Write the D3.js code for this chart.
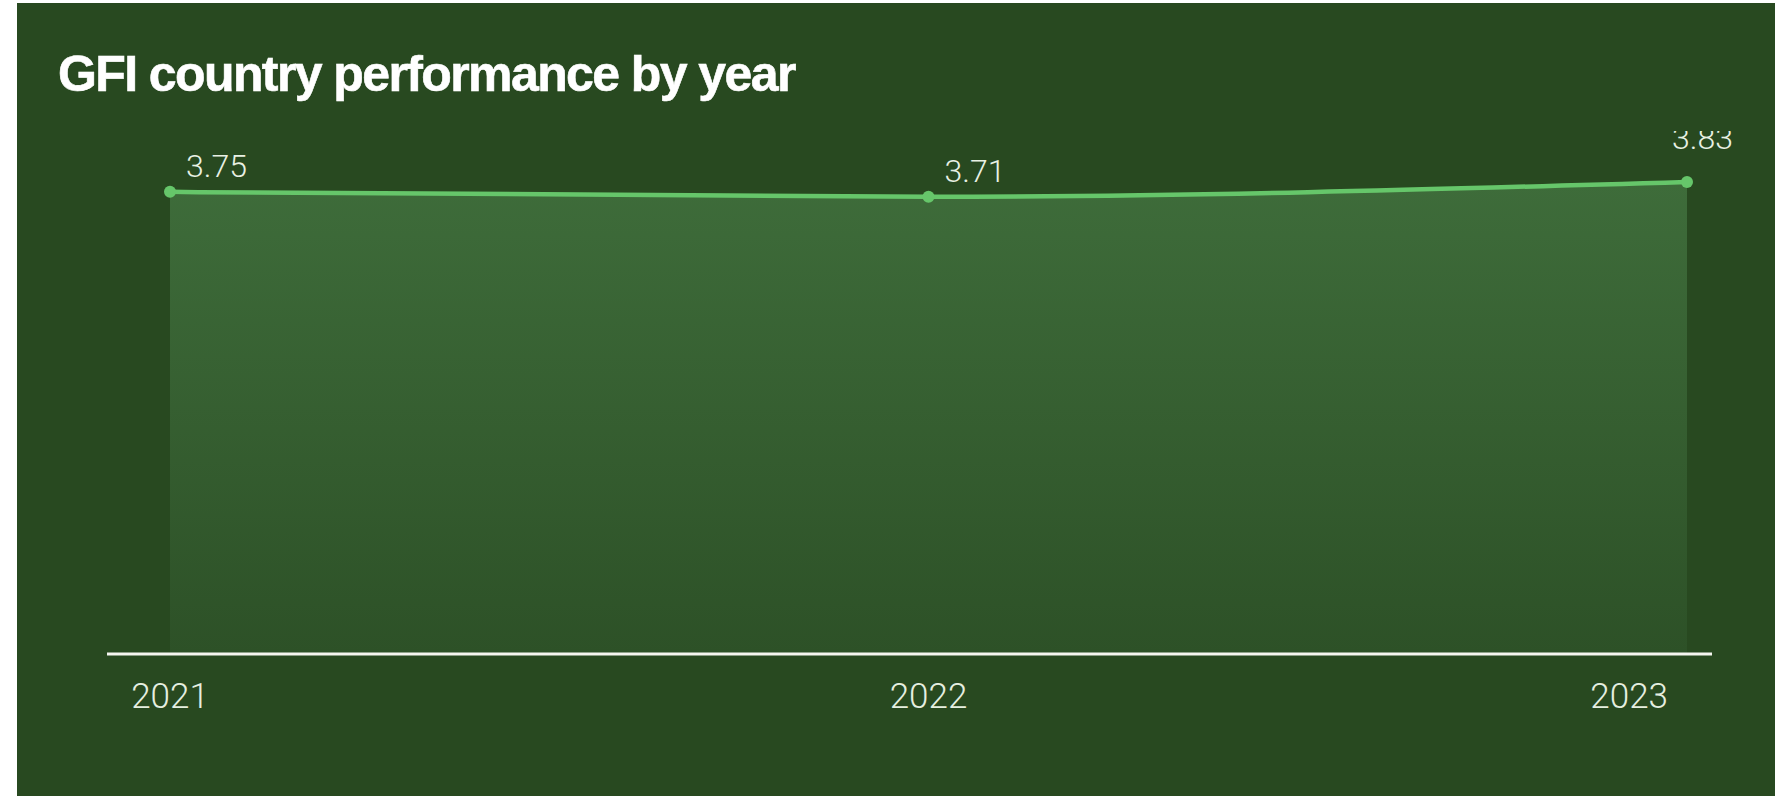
<!DOCTYPE html>
<html>
<head>
<meta charset="utf-8">
<script src="https://cdn.jsdelivr.net/npm/d3@7"></script>
<style>
  html, body { margin: 0; padding: 0; background: #ffffff; }
  svg { display: block; }
</style>
</head>
<body>
<svg id="chart" width="1775" height="796"></svg>
<script>
// GFI score per year
const years = ["2021", "2022", "2023"];
const scores = [3.75, 3.71, 3.83];
const chartTitle = "GFI country performance by year";

const W = 1775, H = 796;
const svg = d3.select("#chart");

// dark green card
svg.append("rect")
  .attr("x", 17).attr("y", 3)
  .attr("width", W - 17).attr("height", H - 3)
  .attr("fill", "#284920");

svg.append("text")
  .attr("x", 58).attr("y", 91)
  .attr("fill", "#ffffff")
  .attr("stroke", "#ffffff")
  .attr("stroke-width", 0.6)
  .attr("font-family", "'Liberation Sans', Arial, sans-serif")
  .attr("font-weight", 700)
  .attr("font-size", 50)
  .attr("letter-spacing", "-1.6px")
  .text(chartTitle);

const data = years.map((yr, i) => ({ year: yr, value: scores[i] }));

const x = d3.scalePoint().domain(years).range([170, 1687]);
const y = d3.scaleLinear().domain([0, d3.max(scores)]).range([654, 182]);

// plot region is clipped at its top edge
const defs = svg.append("defs");
defs.append("clipPath").attr("id", "plotClip")
  .append("rect").attr("x", 17).attr("y", 131).attr("width", W - 17).attr("height", H - 131);

const grad = defs.append("linearGradient")
  .attr("id", "areaFill")
  .attr("gradientUnits", "userSpaceOnUse")
  .attr("x1", 0).attr("x2", 0)
  .attr("y1", y.range()[1]).attr("y2", y.range()[0]);
grad.append("stop").attr("offset", "0%").attr("stop-color", "#3e6c3a");
grad.append("stop").attr("offset", "100%").attr("stop-color", "#2d5127");

const plot = svg.append("g").attr("clip-path", "url(#plotClip)");

const area = d3.area()
  .x(d => x(d.year))
  .y0(y(0))
  .y1(d => y(d.value))
  .curve(d3.curveMonotoneX);

const line = d3.line()
  .x(d => x(d.year))
  .y(d => y(d.value))
  .curve(d3.curveMonotoneX);

plot.append("path")
  .datum(data)
  .attr("d", area)
  .attr("fill", "url(#areaFill)");

plot.append("path")
  .datum(data)
  .attr("d", line)
  .attr("fill", "none")
  .attr("stroke", "#66c66a")
  .attr("stroke-width", 4.5)
  .attr("stroke-linecap", "round");

plot.selectAll("circle.pt")
  .data(data)
  .join("circle")
  .attr("class", "pt")
  .attr("cx", d => x(d.year))
  .attr("cy", d => y(d.value))
  .attr("r", 6)
  .attr("fill", "#66c66a");

// value labels; the last one is pulled left and up so it stays on the card
const lastIdx = data.length - 1;
plot.selectAll("text.val")
  .data(data)
  .join("text")
  .attr("class", "val")
  .attr("x", (d, i) => x(d.year) + (i === lastIdx ? -15 : 16))
  .attr("y", (d, i) => y(d.value) - (i === lastIdx ? 33 : 15))
  .attr("fill", "#e9f1e4")
  .attr("font-family", "Roboto, 'Liberation Sans', sans-serif")
  .attr("font-weight", 300)
  .attr("font-size", 32)
  .text(d => d.value.toFixed(2));

// baseline axis
const axisG = svg.append("g");
axisG.append("line")
  .attr("x1", x(years[0]) - 63)
  .attr("x2", x(years[lastIdx]) + 25)
  .attr("y1", y(0)).attr("y2", y(0))
  .attr("stroke", "#f5f6f0")
  .attr("stroke-width", 3);

axisG.selectAll("text.tick")
  .data(years)
  .join("text")
  .attr("class", "tick")
  .attr("x", (d, i) => i === lastIdx ? x(d) - 19 : x(d))
  .attr("y", y(0) + 54)
  .attr("text-anchor", (d, i) => i === lastIdx ? "end" : "middle")
  .attr("fill", "#e6efe0")
  .attr("font-family", "Roboto, 'Liberation Sans', sans-serif")
  .attr("font-weight", 300)
  .attr("font-size", 35)
  .text(d => d);
</script>
</body>
</html>
